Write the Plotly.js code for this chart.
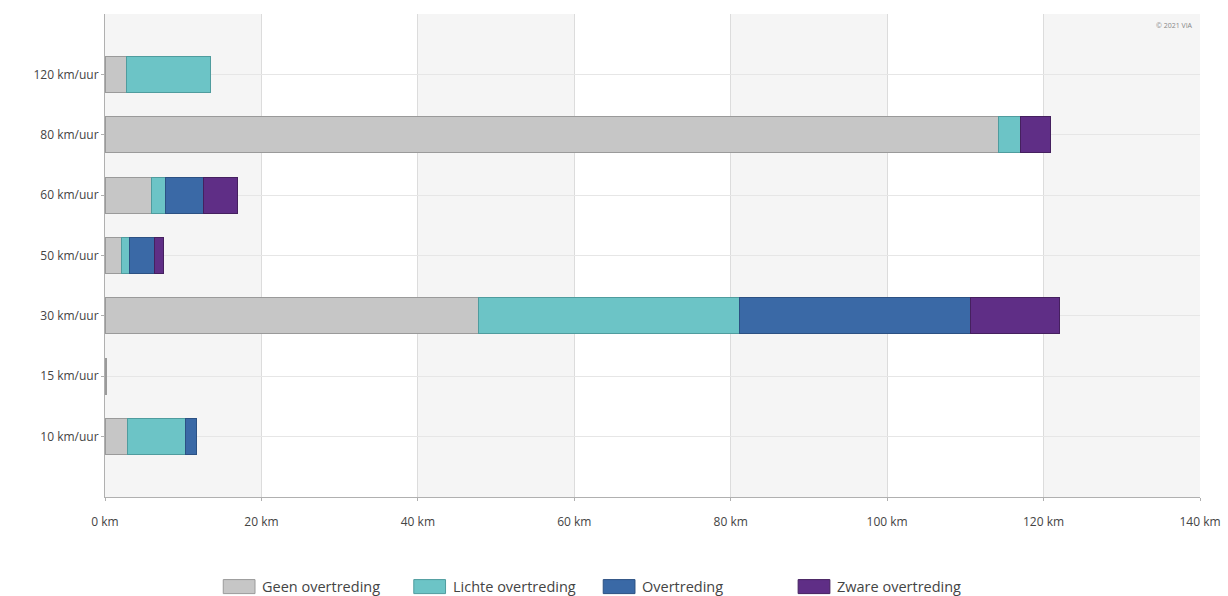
<!DOCTYPE html>
<html>
<head>
<meta charset="utf-8">
<script src="https://cdn.plot.ly/plotly-3.0.1.min.js"></script>
<style>html,body{margin:0;padding:0;background:#fff;}#chart{width:1228px;height:596px;}</style>
</head>
<body>
<div id="chart"></div>
<script>
const categories = ["10 km/uur", "15 km/uur", "30 km/uur", "50 km/uur", "60 km/uur", "80 km/uur", "120 km/uur"];
const seriesNames = ["Geen overtreding", "Lichte overtreding", "Overtreding", "Zware overtreding"];
const geen   = [2.9, 0.15, 47.8, 2.1, 5.9, 114.2, 2.7];
const lichte = [7.4, null, 33.3, 1.0, 1.8, 2.9, 10.8];
const overtr = [1.4, null, 29.6, 3.2, 4.9, null, null];
const zware  = [null, null, 11.3, 1.15, 4.3, 3.8, null];
const xTicks = [0, 20, 40, 60, 80, 100, 120, 140];
const colors = ["#c6c6c6", "#6cc4c6", "#3a69a6", "#5f2e86"];
const borders = ["#9a9a9a", "#4f9c9e", "#2c5183", "#45205f"];
const values = [geen, lichte, overtr, zware];

const traces = seriesNames.map((name, i) => ({
  type: "bar",
  orientation: "h",
  name: name,
  y: categories,
  x: values[i],
  width: 0.6,
  marker: {color: colors[i], line: {color: borders[i], width: 1}},
  showlegend: false,
  hoverinfo: "x+name"
}));

const shapes = [];
for (let i = 0; i < xTicks.length - 1; i += 2) {
  shapes.push({type: "rect", xref: "x", yref: "paper", x0: xTicks[i], x1: xTicks[i + 1], y0: 0, y1: 1,
    fillcolor: "#f5f5f5", line: {width: 0}, layer: "below"});
}

// custom legend
const legendX = [0.108, 0.282, 0.455, 0.633];
const annotations = [];
seriesNames.forEach((name, i) => {
  shapes.push({type: "rect", xref: "paper", yref: "paper", x0: legendX[i], x1: legendX[i] + 0.029,
    y0: -0.2, y1: -0.171, fillcolor: colors[i], line: {color: borders[i], width: 1}});
  annotations.push({xref: "paper", yref: "paper", x: legendX[i] + 0.034, y: -0.1855, xanchor: "left", yanchor: "middle",
    text: name, showarrow: false, font: {family: "Open Sans", size: 14.5, color: "#444"}});
});
annotations.push({xref: "paper", yref: "paper", x: 0.995, y: 0.99, xanchor: "right", yanchor: "top",
  text: "© 2021 VIA", showarrow: false, font: {family: "Open Sans", size: 7, color: "#888"}});

const layout = {
  width: 1228, height: 596,
  margin: {l: 105, r: 28, t: 14, b: 99},
  barmode: "stack",
  paper_bgcolor: "#ffffff",
  plot_bgcolor: "#ffffff",
  font: {family: "Open Sans", size: 12, color: "#444"},
  xaxis: {
    range: [0, 140], tickvals: xTicks, ticktext: xTicks.map(v => v + " km"),
    showgrid: true, gridcolor: "#dcdcdc", gridwidth: 1,
    zeroline: false, showline: true, linecolor: "#b0b0b0", linewidth: 1,
    ticks: "outside", ticklen: 3, tickcolor: "#b0b0b0", ticklabelstandoff: 11,
    tickfont: {family: "Open Sans", size: 12, color: "#444"}
  },
  yaxis: {
    type: "category", categoryorder: "array", categoryarray: categories,
    range: [-1, 7], showgrid: true, gridcolor: "#e6e6e6", gridwidth: 1,
    showline: true, linecolor: "#b0b0b0", linewidth: 1,
    ticks: "outside", ticklen: 3, tickcolor: "#b0b0b0",
    tickfont: {family: "Open Sans", size: 12, color: "#444"}
  },
  shapes: shapes,
  annotations: annotations
};

Plotly.newPlot("chart", traces, layout, {displayModeBar: false, staticPlot: true});
</script>
</body>
</html>
